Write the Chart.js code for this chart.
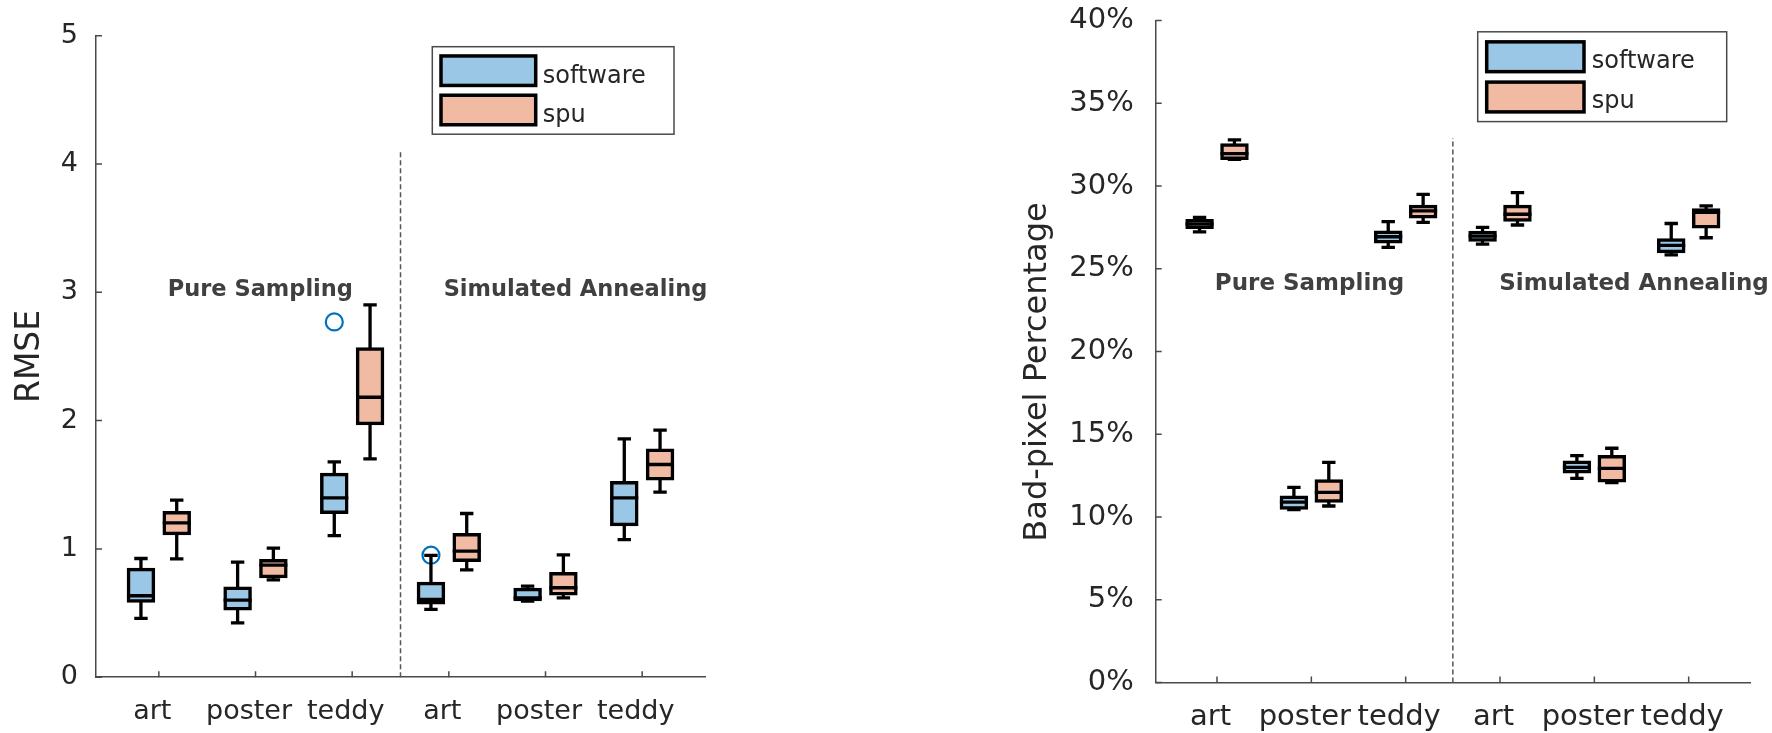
<!DOCTYPE html>
<html lang="en">
<head>
<meta charset="utf-8">
<title>RMSE and bad-pixel percentage: software vs spu</title>
<script src="https://cdn.jsdelivr.net/npm/chart.js@4.4.1/dist/chart.umd.min.js"></script>
<style>
  html, body { margin: 0; padding: 0; background: #fff; }
  body { position: relative; width: 1772px; height: 733px; overflow: hidden; }
  canvas { position: absolute; top: 0; }
  #rmseChart { left: 0; }
  #badPixelChart { left: 880px; }
</style>
</head>
<body>
<canvas id="rmseChart" width="760" height="733"></canvas>
<canvas id="badPixelChart" width="892" height="733"></canvas>
<script>
// x-axis categories: the first three belong to Pure Sampling, the last three to Simulated Annealing
const categories = ['art', 'poster', 'teddy', 'art', 'poster', 'teddy'];
const seriesNames = ['software', 'spu'];
const groupLabels = ['Pure Sampling', 'Simulated Annealing'];

// RMSE box summaries, one row per category: [min, q1, median, q3, max]
const rmseSoftware = [
  [0.458, 0.593, 0.635, 0.840, 0.925],
  [0.424, 0.533, 0.601, 0.694, 0.897],
  [1.103, 1.285, 1.398, 1.580, 1.679],
  [0.528, 0.580, 0.606, 0.731, 0.949],
  [0.594, 0.605, 0.618, 0.683, 0.710],
  [1.073, 1.190, 1.398, 1.515, 1.858]
];
const rmseSpu = [
  [0.923, 1.120, 1.203, 1.281, 1.380],
  [0.759, 0.785, 0.873, 0.907, 1.006],
  [1.702, 1.977, 2.182, 2.559, 2.902],
  [0.837, 0.912, 0.982, 1.110, 1.276],
  [0.619, 0.650, 0.697, 0.806, 0.954],
  [1.442, 1.546, 1.658, 1.769, 1.925]
];
// RMSE outliers of the software runs: [category index, value]
const rmseSoftwareOutliers = [[2, 2.769], [3, 0.951]];
const rmseTicks = [0, 1, 2, 3, 4, 5];
const rmseDividerTop = 4.1;

// Bad-pixel percentage box summaries (%): [min, q1, median, q3, max]
const badPixelSoftware = [
  [27.24, 27.51, 27.71, 27.91, 28.11],
  [10.45, 10.55, 10.90, 11.20, 11.80],
  [26.30, 26.64, 26.94, 27.21, 27.85],
  [26.50, 26.74, 26.98, 27.19, 27.51],
  [12.34, 12.74, 13.01, 13.31, 13.71],
  [25.85, 26.05, 26.42, 26.75, 27.74]
];
const badPixelSpu = [
  [31.62, 31.68, 31.96, 32.48, 32.79],
  [10.67, 10.97, 11.50, 12.18, 13.31],
  [27.81, 28.15, 28.50, 28.76, 29.50],
  [27.65, 27.95, 28.30, 28.76, 29.60],
  [12.08, 12.20, 12.95, 13.65, 14.16],
  [26.88, 27.55, 28.42, 28.56, 28.80]
];
const badPixelSoftwareOutliers = [];
const badPixelTicks = [0, 5, 10, 15, 20, 25, 30, 35, 40];
const badPixelDividerTop = 32.9;

// ---- styling ----
const FONT = '"DejaVu Sans", "Liberation Sans", Arial, sans-serif';
const softwareFill = 'rgb(153, 199, 229)';
const spuFill = 'rgb(240, 186, 163)';
const outlierColor = '#0072BD';
const axisColor = '#4a4a4a';
const textColor = '#262626';
const groupLabelColor = '#404040';
const boxOffset = 0.185;   // horizontal shift of each series from its category tick

// Dashed separator between the two method groups
const dividerPlugin = {
  id: 'groupDivider',
  beforeDatasetsDraw(chart, args, opts) {
    const { ctx, scales: { x, y } } = chart;
    const px = x.getPixelForValue(opts.at);
    ctx.save();
    ctx.strokeStyle = opts.color;
    ctx.lineWidth = opts.width;
    ctx.setLineDash(opts.dash);
    ctx.beginPath();
    ctx.moveTo(px, y.getPixelForValue(0));
    ctx.lineTo(px, y.getPixelForValue(opts.top));
    ctx.stroke();
    ctx.restore();
  }
};

// Whiskers, caps and median lines on top of the floating-bar boxes
const whiskerPlugin = {
  id: 'boxWhiskers',
  afterDatasetsDraw(chart, args, opts) {
    const { ctx, scales: { x, y } } = chart;
    ctx.save();
    ctx.strokeStyle = '#000';
    ctx.lineCap = 'butt';
    opts.series.forEach(({ summaries, offset }) => {
      summaries.forEach(([lo, q1, med, q3, hi], i) => {
        const cx = x.getPixelForValue(i + 1 + offset);
        const yLo = y.getPixelForValue(lo), yQ1 = y.getPixelForValue(q1);
        const yMed = y.getPixelForValue(med), yQ3 = y.getPixelForValue(q3);
        const yHi = y.getPixelForValue(hi);
        ctx.lineWidth = opts.lineWidth;
        ctx.beginPath();
        ctx.moveTo(cx, yQ3); ctx.lineTo(cx, yHi);
        ctx.moveTo(cx, yQ1); ctx.lineTo(cx, yLo);
        ctx.moveTo(cx - opts.capHalf, yHi); ctx.lineTo(cx + opts.capHalf, yHi);
        ctx.moveTo(cx - opts.capHalf, yLo); ctx.lineTo(cx + opts.capHalf, yLo);
        ctx.moveTo(cx - opts.boxHalf, yMed); ctx.lineTo(cx + opts.boxHalf, yMed);
        ctx.stroke();
      });
    });
    ctx.restore();
  }
};

// Tick marks pointing into the plot area
const inwardTicksPlugin = {
  id: 'inwardTicks',
  afterDraw(chart, args, opts) {
    const { ctx, chartArea: a, scales: { x, y } } = chart;
    ctx.save();
    ctx.strokeStyle = opts.color;
    ctx.lineWidth = opts.width;
    ctx.beginPath();
    x.ticks.forEach(t => {
      const px = x.getPixelForValue(t.value);
      ctx.moveTo(px, a.bottom); ctx.lineTo(px, a.bottom - opts.length);
    });
    y.ticks.forEach(t => {
      const py = y.getPixelForValue(t.value);
      ctx.moveTo(a.left, py); ctx.lineTo(a.left + opts.length, py);
    });
    ctx.stroke();
    ctx.restore();
  }
};

// Bold method names placed in data coordinates
const groupLabelPlugin = {
  id: 'groupLabels',
  afterDatasetsDraw(chart, args, opts) {
    const { ctx, scales: { x, y } } = chart;
    ctx.save();
    ctx.fillStyle = opts.color;
    ctx.font = `bold ${opts.size}px ${FONT}`;
    ctx.textAlign = 'center';
    ctx.textBaseline = 'alphabetic';
    opts.labels.forEach(l => ctx.fillText(l.text, x.getPixelForValue(l.x), y.getPixelForValue(l.y)));
    ctx.restore();
  }
};

// Rotated y-axis title
const axisTitlePlugin = {
  id: 'axisTitle',
  afterDraw(chart, args, opts) {
    const { ctx, chartArea: a } = chart;
    ctx.save();
    ctx.translate(a.left + opts.dx, (a.top + a.bottom) / 2 + opts.dy);
    ctx.rotate(-Math.PI / 2);
    ctx.font = `${opts.size}px ${FONT}`;
    ctx.fillStyle = textColor;
    ctx.textAlign = 'center';
    ctx.textBaseline = 'middle';
    ctx.fillText(opts.text, 0, 0);
    ctx.restore();
  }
};

// Framed legend in the upper right of the plot area, built from the bar datasets
const boxLegendPlugin = {
  id: 'boxLegend',
  afterDraw(chart, args, opts) {
    const { ctx, chartArea: a } = chart;
    const left = a.right - opts.right - opts.width;
    const top = a.top + opts.top;
    ctx.save();
    ctx.fillStyle = '#fff';
    ctx.fillRect(left, top, opts.width, opts.height);
    ctx.strokeStyle = axisColor;
    ctx.lineWidth = 1.5;
    ctx.strokeRect(left, top, opts.width, opts.height);
    chart.data.datasets.filter(d => d.type === 'bar').forEach((ds, i) => {
      const cy = top + opts.rowCenters[i];
      const sx = left + opts.swatchX, sy = cy - opts.swatchH / 2;
      ctx.fillStyle = ds.backgroundColor;
      ctx.fillRect(sx, sy, opts.swatchW, opts.swatchH);
      ctx.strokeStyle = '#000';
      ctx.lineWidth = 3.5;
      ctx.strokeRect(sx, sy, opts.swatchW, opts.swatchH);
      ctx.fillStyle = textColor;
      ctx.font = `${opts.size}px ${FONT}`;
      ctx.textAlign = 'left';
      ctx.textBaseline = 'alphabetic';
      ctx.fillText(ds.label, left + opts.textX, cy + opts.baseline);
    });
    ctx.restore();
  }
};

function boxDataset(label, summaries, offset, fill) {
  return {
    type: 'bar',
    label,
    data: summaries.map((s, i) => ({ x: i + 1 + offset, y: [s[1], s[3]] })),
    backgroundColor: fill,
    borderColor: '#000',
    borderWidth: 3.5,
    borderSkipped: false,
    inflateAmount: 1.75,
    barThickness: 25,
    grouped: false
  };
}

function makeBoxChart(canvasId, cfg) {
  const datasets = [
    boxDataset(seriesNames[0], cfg.software, -boxOffset, softwareFill),
    boxDataset(seriesNames[1], cfg.spu, boxOffset, spuFill),
    {
      type: 'scatter',
      label: 'outliers',
      data: cfg.outliers.map(([i, v]) => ({ x: i + 1 - boxOffset, y: v })),
      pointStyle: 'circle',
      pointRadius: 8.5,
      borderWidth: 2.2,
      borderColor: outlierColor,
      backgroundColor: 'rgba(0,0,0,0)'
    }
  ];
  return new Chart(document.getElementById(canvasId), {
    type: 'bar',
    data: { datasets },
    options: {
      responsive: false,
      animation: false,
      events: [],
      layout: { padding: cfg.padding },
      scales: {
        x: {
          type: 'linear',
          min: 0.35,
          max: 6.65,
          offset: false,
          grid: { display: false, drawTicks: false },
          border: { display: true, color: axisColor, width: 1.5 },
          ticks: {
            autoSkip: false,
            maxRotation: 0,
            padding: cfg.xTickPadding,
            labelOffset: -6.5,
            color: textColor,
            font: { family: FONT, size: cfg.tickSize },
            callback: (v, i) => categories[i]
          },
          afterBuildTicks: s => { s.ticks = categories.map((c, i) => ({ value: i + 1 })); },
          afterFit: s => { s.height = cfg.xAxisHeight; }
        },
        y: {
          type: 'linear',
          min: cfg.yTicks[0],
          max: cfg.yTicks[cfg.yTicks.length - 1],
          grid: { display: false, drawTicks: false },
          border: { display: true, color: axisColor, width: 1.5 },
          ticks: {
            padding: cfg.yTickPadding,
            color: textColor,
            font: { family: FONT, size: cfg.tickSize },
            callback: cfg.yFormat
          },
          afterBuildTicks: s => { s.ticks = cfg.yTicks.map(v => ({ value: v })); },
          afterFit: s => {
            s.width = cfg.yAxisWidth;
            // the layout padding already leaves room for the end labels
            s.paddingTop = 0;
            s.paddingBottom = 0;
          }
        }
      },
      plugins: {
        legend: { display: false },
        tooltip: { enabled: false },
        groupDivider: { at: 3.5, top: cfg.dividerTop, color: '#555', width: 1.5, dash: [5, 3] },
        boxWhiskers: {
          series: [
            { summaries: cfg.software, offset: -boxOffset },
            { summaries: cfg.spu, offset: boxOffset }
          ],
          lineWidth: 3.3, capHalf: 6.7, boxHalf: 14
        },
        inwardTicks: { color: axisColor, width: 1.5, length: 6 },
        groupLabels: { color: groupLabelColor, size: cfg.groupLabelSize, labels: cfg.groupLabelPos },
        axisTitle: cfg.title,
        boxLegend: cfg.legend
      }
    },
    plugins: [dividerPlugin, whiskerPlugin, inwardTicksPlugin, groupLabelPlugin, axisTitlePlugin, boxLegendPlugin]
  });
}

makeBoxChart('rmseChart', {
  software: rmseSoftware,
  spu: rmseSpu,
  outliers: rmseSoftwareOutliers,
  yTicks: rmseTicks,
  yFormat: v => String(v),
  dividerTop: rmseDividerTop,
  padding: { top: 35.7, left: 0, right: 55, bottom: 0 },
  yAxisWidth: 96,
  xAxisHeight: 55.8,
  tickSize: 27,
  xTickPadding: 19,
  yTickPadding: 18,
  groupLabelSize: 22.5,
  groupLabelPos: [
    { text: groupLabels[0], x: 2.05, y: 2.97 },
    { text: groupLabels[1], x: 5.31, y: 2.97 }
  ],
  title: { text: 'RMSE', size: 33, dx: -65.5, dy: 0 },
  legend: {
    right: 31, top: 11, width: 241.7, height: 87.5,
    swatchX: 8.7, swatchW: 94.7, swatchH: 29.5,
    rowCenters: [24, 63.3], textX: 110.4, size: 24, baseline: 12.3
  }
});

makeBoxChart('badPixelChart', {
  software: badPixelSoftware,
  spu: badPixelSpu,
  outliers: badPixelSoftwareOutliers,
  yTicks: badPixelTicks,
  yFormat: v => v + '%',
  dividerTop: badPixelDividerTop,
  padding: { top: 20.6, left: 0, right: 22, bottom: 0 },
  yAxisWidth: 275.7,
  xAxisHeight: 50.4,
  tickSize: 29,
  xTickPadding: 17,
  yTickPadding: 22,
  groupLabelSize: 23,
  groupLabelPos: [
    { text: groupLabels[0], x: 1.98, y: 23.7 },
    { text: groupLabels[1], x: 5.42, y: 23.7 }
  ],
  title: { text: 'Bad-pixel Percentage', size: 32, dx: -117.7, dy: 20.4 },
  legend: {
    right: 23.3, top: 11.2, width: 249, height: 89.8,
    swatchX: 9, swatchW: 97.3, swatchH: 29.8,
    rowCenters: [24.95, 65.2], textX: 114, size: 24, baseline: 11
  }
});
</script>
</body>
</html>
